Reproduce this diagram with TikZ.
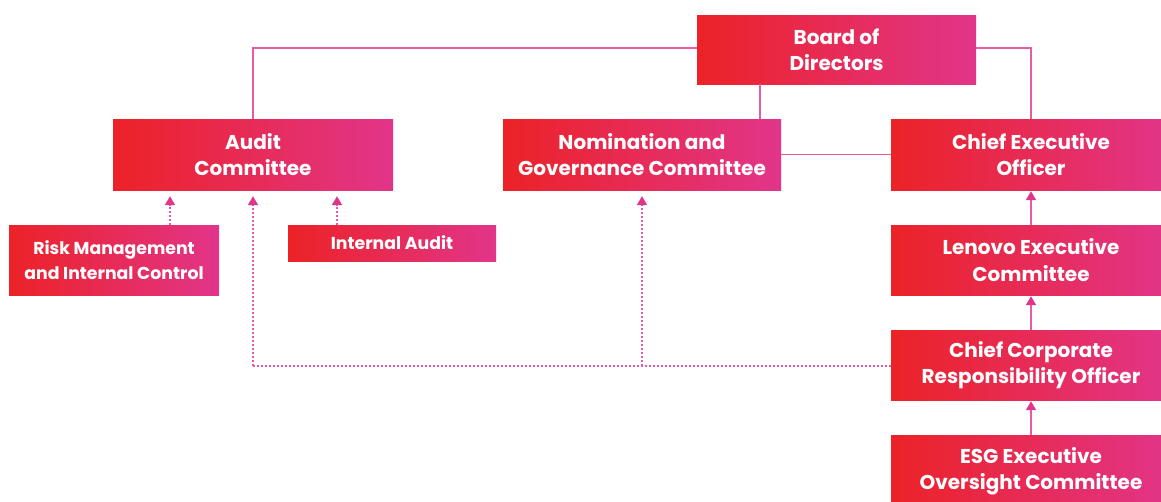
\documentclass[tikz,border=0pt]{standalone}
\usepackage{fontspec}
\setmainfont{Poppins}
\usetikzlibrary{arrows.meta,calc}
\definecolor{boxL}{HTML}{EC2227}
\definecolor{boxR}{HTML}{E2358A}
\definecolor{linkc}{HTML}{E75AA6}
\definecolor{tipc}{HTML}{E0358A}
\tikzset{
  orgbox/.style={rectangle, inner sep=0pt, left color=boxL, right color=boxR,
    text=white, font=\bfseries\fontsize{20}{26.5}\selectfont, align=center},
  smallbox/.style={orgbox, font=\bfseries\fontsize{17.3}{24.5}\selectfont},
  link/.style={draw=linkc, line width=1.8pt},
  uparrow/.style={draw=linkc, line width=1.8pt, -{Triangle[width=10pt,length=9pt,color=tipc]}},
  dotlink/.style={draw=linkc, line width=2pt, dotted},
  dotarrow/.style={dotlink, -{Triangle[width=10pt,length=9pt,color=tipc]}}
}
\begin{document}
\begin{tikzpicture}[x=1pt,y=-1pt]
\useasboundingbox[fill=white] (0,0) rectangle (1161,501);
\node[orgbox, minimum width=279pt, minimum height=69pt] (board) at (836.5,49.5) {Board of\\Directors};
\node[orgbox, minimum width=280pt, minimum height=71pt] (audit) at (253,154.5) {Audit\\Committee};
\node[orgbox, minimum width=278pt, minimum height=71pt] (nom) at (642,154.5) {Nomination and\\Governance Committee};
\node[orgbox, minimum width=280pt, minimum height=71pt] (ceo) at (1031,154.5) {Chief Executive\\Officer};
\node[orgbox, minimum width=280pt, minimum height=70pt] (lec) at (1031,260) {Lenovo Executive\\Committee};
\node[orgbox, minimum width=280pt, minimum height=70pt] (ccro) at (1031,365) {Chief Corporate\\Responsibility Officer};
\node[orgbox, minimum width=280pt, minimum height=72pt] (esg) at (1031,471) {ESG Executive\\Oversight Committee};
\node[smallbox, minimum width=210pt, minimum height=70pt] (risk) at (114,260) {Risk Management\\and Internal Control};
\node[smallbox, minimum width=208pt, minimum height=36pt] (ia) at (392,243) {Internal Audit};

\draw[link] (board.west |- 0,48) -| (audit.north);
\draw[link] (board.east |- 0,48) -| (ceo.north);
\draw[link] (board.south -| 760,0) -- (nom.north -| 760,0);
\draw[link] (nom.east) -- (ceo.west);

\draw[uparrow] (lec.north) -- ($(ceo.south)+(0,1)$);
\draw[uparrow] (ccro.north) -- ($(lec.south)+(0,1)$);
\draw[uparrow] (esg.north) -- ($(ccro.south)+(0,1)$);

\coordinate (corner) at (253,366);
\coordinate (mid) at (642,366);
\draw[dotarrow] (risk.north -| 170,0) -- ($(audit.south -| 170,0)+(0,6)$);
\draw[dotarrow] (ia.north -| 337,0) -- ($(audit.south -| 337,0)+(0,6)$);
\draw[dotlink] (ccro.west |- corner) -- (corner);
\draw[dotarrow] (corner) -- ($(audit.south)+(0,6)$);
\draw[dotarrow] (mid) -- ($(nom.south)+(0,6)$);
\end{tikzpicture}
\end{document}
